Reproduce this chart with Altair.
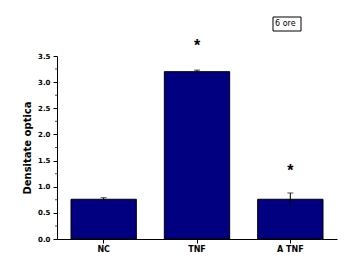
import altair as alt
import pandas as pd

categories = ["NC", "TNF", "A TNF"]
values = [0.76, 3.20, 0.76]
errors = [0.03, 0.03, 0.12]
star_y = [None, 3.77, 1.38]
yticks = [0.0, 0.5, 1.0, 1.5, 2.0, 2.5, 3.0, 3.5]
yminor = [0.25, 0.75, 1.25, 1.75, 2.25, 2.75, 3.25]

df = pd.DataFrame({"cat": categories, "val": values,
                   "lo": [v - e for v, e in zip(values, errors)],
                   "hi": [v + e for v, e in zip(values, errors)],
                   "star": star_y})

xaxis = alt.Axis(labelAngle=0, labelFont="DejaVu Sans", labelFontWeight="bold",
                 labelFontSize=8, labelColor="#000", domainColor="#000",
                 tickColor="#000", tickSize=4, labelPadding=2, grid=False)
yaxis = alt.Axis(values=yticks, format=".1f", labelFont="DejaVu Sans",
                 labelFontWeight="bold", labelFontSize=7, labelColor="#000",
                 labelOverlap=False, labelPadding=3, labelBound=False,
                 titleFont="DejaVu Sans", titleFontWeight="bold", titleFontSize=10,
                 titleColor="#000", domainColor="#000", tickColor="#000",
                 tickSize=4, grid=False, titlePadding=5)
xscale = alt.Scale(paddingInner=0.3, paddingOuter=0.15)
yscale = alt.Scale(domain=[0, 3.5], nice=False)
ytitle = "Densitate optica"

def X():
    return alt.X("cat:N", sort=categories, title=None, scale=xscale, axis=xaxis)

def Y(field):
    return alt.Y(field, scale=yscale, title=ytitle, axis=yaxis)

bars = alt.Chart(df).mark_bar(color="#000080", stroke="#000", strokeWidth=1).encode(
    x=X(), y=Y("val:Q"))

minor = alt.Chart(pd.DataFrame({"m": yminor})).mark_tick(
    color="#000", size=2, thickness=1, orient="horizontal").encode(
    y=Y("m:Q"), x=alt.value(-1))

err = alt.Chart(df).mark_rule(color="#000").encode(x=X(), y=Y("lo:Q"), y2="hi:Q")
cap = alt.Chart(df).mark_tick(color="#000", size=6, thickness=1).encode(x=X(), y=Y("hi:Q"))

stars = alt.Chart(df).transform_filter("datum.star != null").mark_text(
    text="*", fontSize=16, fontWeight="bold", color="#000", baseline="middle", dy=4).encode(
    x=X(), y=Y("star:Q"))

legend = alt.Chart(pd.DataFrame({"t": ["6 ore"]})).mark_text(
    font="DejaVu Sans", fontSize=8, color="#000", align="left").encode(
    x=alt.value(218), y=alt.value(-32), text="t:N")
legbox = alt.Chart(pd.DataFrame({"a": [0]})).mark_rect(
    fill="white", stroke="#000", strokeWidth=1).encode(
    x=alt.value(216), x2=alt.value(244), y=alt.value(-39), y2=alt.value(-25))

chart = alt.layer(bars, minor, err, cap, stars, legbox, legend).properties(
    width=280, height=183,
    padding={"left": 57, "top": 56, "right": 18, "bottom": 39},
    autosize=alt.AutoSizeParams(type="none"),
    background="white"
).configure_view(stroke=None)

chart.save("out.html", embed_options={"renderer": "svg", "actions": False})
